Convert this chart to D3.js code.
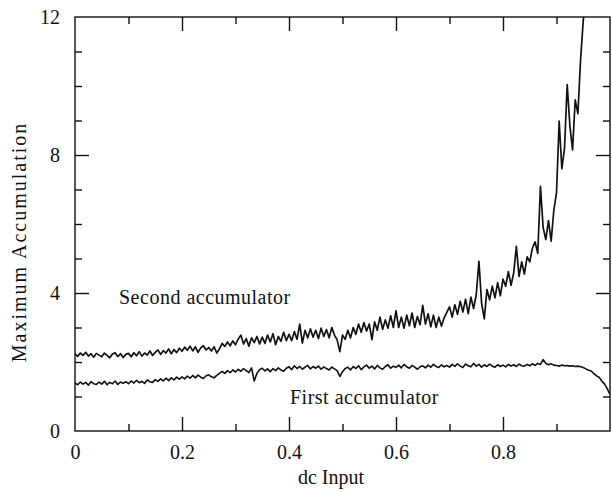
<!DOCTYPE html>
<html>
<head>
<meta charset="utf-8">
<script src="https://cdn.jsdelivr.net/npm/d3@7"></script>
<style>
  html, body { margin: 0; padding: 0; background: #fff; }
  svg { display: block; }
  text { font-family: "Liberation Serif", "DejaVu Serif", "Times New Roman", serif; fill: #111; }
</style>
</head>
<body>
<svg id="chart" width="612" height="493"></svg>
<script>
// ---- data ----
const dcInput = [
  0,0.005,0.01,0.015,0.02,0.025,0.03,0.035,0.04,0.045,
  0.05,0.055,0.06,0.065,0.07,0.075,0.08,0.085,0.09,0.095,
  0.1,0.105,0.11,0.115,0.12,0.125,0.13,0.135,0.14,0.145,
  0.15,0.155,0.16,0.165,0.17,0.175,0.18,0.185,0.19,0.195,
  0.2,0.205,0.21,0.215,0.22,0.225,0.23,0.235,0.24,0.245,
  0.25,0.255,0.26,0.265,0.27,0.275,0.28,0.285,0.29,0.295,
  0.3,0.305,0.31,0.315,0.32,0.325,0.33,0.335,0.34,0.345,
  0.35,0.355,0.36,0.365,0.37,0.375,0.38,0.385,0.39,0.395,
  0.4,0.405,0.41,0.415,0.42,0.425,0.43,0.435,0.44,0.445,
  0.45,0.455,0.46,0.465,0.47,0.475,0.48,0.485,0.49,0.495,
  0.5,0.505,0.51,0.515,0.52,0.525,0.53,0.535,0.54,0.545,
  0.55,0.555,0.56,0.565,0.57,0.575,0.58,0.585,0.59,0.595,
  0.6,0.605,0.61,0.615,0.62,0.625,0.63,0.635,0.64,0.645,
  0.65,0.655,0.66,0.665,0.67,0.675,0.68,0.685,0.69,0.695,
  0.7,0.705,0.71,0.715,0.72,0.725,0.73,0.735,0.74,0.745,
  0.75,0.755,0.76,0.765,0.77,0.775,0.78,0.785,0.79,0.795,
  0.8,0.805,0.81,0.815,0.82,0.825,0.83,0.835,0.84,0.845,
  0.85,0.855,0.86,0.865,0.87,0.875,0.88,0.885,0.89,0.895,
  0.9,0.905,0.91,0.915,0.92,0.925,0.93,0.935,0.94,0.945,
  0.95,0.955,0.96,0.965,0.97,0.975,0.98,0.985,0.99,0.995,
  1.0
];

const secondAccumulator = [
  2.24,2.16,2.26,2.19,2.28,2.17,2.24,2.14,2.25,2.20,
  2.15,2.26,2.19,2.12,2.23,2.27,2.16,2.24,2.13,2.22,
  2.25,2.15,2.27,2.18,2.30,2.17,2.26,2.20,2.32,2.19,
  2.28,2.35,2.22,2.33,2.26,2.38,2.24,2.36,2.27,2.40,
  2.31,2.43,2.34,2.46,2.32,2.44,2.28,2.41,2.47,2.35,
  2.42,2.32,2.44,2.26,2.38,2.54,2.45,2.58,2.47,2.61,
  2.50,2.66,2.78,2.52,2.68,2.46,2.70,2.56,2.74,2.52,
  2.72,2.54,2.78,2.58,2.82,2.50,2.74,2.60,2.86,2.62,
  2.80,2.62,2.88,2.66,3.10,2.55,2.92,2.70,2.96,2.72,
  2.92,2.68,2.98,2.74,2.94,2.70,3.00,2.78,2.64,2.30,
  2.78,2.66,2.92,2.70,3.00,2.80,3.10,2.86,3.14,2.90,
  3.10,2.65,3.16,2.92,3.30,2.95,3.22,2.98,3.34,3.00,
  3.48,3.00,3.30,2.98,3.36,3.05,3.42,3.00,3.32,3.08,
  3.64,3.10,3.40,3.02,3.36,3.00,3.30,3.04,3.28,3.44,
  3.60,3.30,3.66,3.38,3.76,3.45,3.82,3.40,3.88,3.55,
  3.95,4.92,3.70,3.25,4.10,3.80,4.20,3.86,4.30,3.92,
  4.40,4.20,4.62,4.22,4.58,5.35,4.48,4.90,4.55,5.05,
  4.90,5.30,5.48,5.15,7.09,5.90,5.55,6.10,5.50,6.40,
  6.90,8.98,7.60,8.20,10.04,8.85,8.15,9.60,9.20,10.76,
  11.9,12.5
];

const firstAccumulator = [
  1.39,1.34,1.42,1.36,1.41,1.33,1.43,1.37,1.35,1.42,
  1.36,1.44,1.34,1.41,1.37,1.45,1.35,1.42,1.38,1.43,
  1.37,1.45,1.39,1.47,1.40,1.44,1.38,1.48,1.43,1.41,
  1.49,1.44,1.51,1.45,1.53,1.46,1.54,1.48,1.56,1.50,
  1.57,1.51,1.59,1.53,1.61,1.54,1.62,1.56,1.52,1.60,
  1.63,1.57,1.54,1.61,1.67,1.73,1.67,1.75,1.69,1.77,
  1.71,1.79,1.73,1.81,1.75,1.69,1.83,1.45,1.67,1.78,
  1.82,1.74,1.80,1.72,1.81,1.75,1.83,1.77,1.73,1.82,
  1.86,1.78,1.89,1.81,1.87,1.79,1.85,1.90,1.80,1.87,
  1.82,1.88,1.79,1.86,1.81,1.77,1.85,1.80,1.75,1.58,
  1.72,1.81,1.85,1.77,1.87,1.81,1.89,1.78,1.86,1.91,
  1.82,1.88,1.80,1.90,1.83,1.79,1.87,1.92,1.82,1.88,
  1.84,1.91,1.83,1.93,1.86,1.82,1.90,1.85,1.79,1.86,
  1.89,1.83,1.91,1.85,1.93,1.87,1.84,1.92,1.86,1.90,
  1.85,1.93,1.87,1.95,1.88,1.84,1.94,1.89,1.86,1.96,
  1.88,1.93,1.85,1.92,1.87,1.94,1.88,1.85,1.92,1.87,
  1.91,1.86,1.93,1.88,1.92,1.87,1.94,1.89,1.88,1.93,
  1.89,1.95,1.90,1.96,1.93,2.07,1.96,1.92,1.95,1.91,
  1.90,1.88,1.91,1.89,1.90,1.88,1.89,1.87,1.88,1.86,
  1.84,1.80,1.76,1.74,1.66,1.60,1.55,1.44,1.36,1.22,
  1.06
];

const xMajorTicks = [0, 0.2, 0.4, 0.6, 0.8];
const xTickLabels = ["0", "0.2", "0.4", "0.6", "0.8"];
const xMinorTicks = [0.1, 0.3, 0.5, 0.7, 0.9];
const yMajorTicks = [0, 4, 8, 12];
const yTickLabels = ["0", "4", "8", "12"];
const yMinorTicks = [1, 2, 3, 5, 6, 7, 9, 10, 11];
const seriesLabels = ["Second accumulator", "First accumulator"];
const xTitle = "dc Input";
const yTitle = "Maximum Accumulation";

// ---- layout ----
const svg = d3.select("#chart");
const L = 75, R = 610, T = 17, B = 431;
const x = d3.scaleLinear().domain([0, 1]).range([L, R]);
const y = d3.scaleLinear().domain([0, 12]).range([B, T]);
const ink = "#111";
const serif = '"Liberation Serif", "DejaVu Serif", "Times New Roman", serif';
const majorLen = 14, minorLen = 7;

svg.append("defs").append("clipPath").attr("id", "plotClip")
  .append("rect").attr("x", L).attr("y", T).attr("width", R - L).attr("height", B - T);

function styleAxis(g) {
  g.attr("font-family", serif);
  g.select(".domain").remove();
  g.selectAll(".tick line").attr("stroke", ink).attr("stroke-width", 1.4);
}

// bottom axis
const gBottom = svg.append("g").attr("transform", `translate(0,${B})`)
  .call(d3.axisBottom(x).tickValues(xMajorTicks)
    .tickFormat((d, i) => xTickLabels[i]).tickSizeInner(-majorLen).tickSizeOuter(0).tickPadding(14));
styleAxis(gBottom);
gBottom.selectAll(".tick text").attr("font-size", 20).attr("font-family", serif).attr("fill", ink);
gBottom.selectAll(".tick").filter(d => d === 0).select("line").remove();
const gBottomMinor = svg.append("g").attr("transform", `translate(0,${B})`)
  .call(d3.axisBottom(x).tickValues(xMinorTicks).tickFormat("").tickSizeInner(-minorLen).tickSizeOuter(0));
styleAxis(gBottomMinor);

// top axis
const gTop = svg.append("g").attr("transform", `translate(0,${T})`)
  .call(d3.axisTop(x).tickValues(xMajorTicks.filter(d => d > 0)).tickFormat("").tickSizeInner(-majorLen).tickSizeOuter(0));
styleAxis(gTop);
const gTopMinor = svg.append("g").attr("transform", `translate(0,${T})`)
  .call(d3.axisTop(x).tickValues(xMinorTicks).tickFormat("").tickSizeInner(-minorLen).tickSizeOuter(0));
styleAxis(gTopMinor);

// left axis
const gLeft = svg.append("g").attr("transform", `translate(${L},0)`)
  .call(d3.axisLeft(y).tickValues(yMajorTicks)
    .tickFormat((d, i) => yTickLabels[i]).tickSizeInner(-majorLen).tickSizeOuter(0).tickPadding(15));
styleAxis(gLeft);
gLeft.selectAll(".tick text").attr("font-size", 20).attr("font-family", serif).attr("fill", ink);
gLeft.selectAll(".tick").filter(d => d === 0 || d === 12).select("line").remove();
const gLeftMinor = svg.append("g").attr("transform", `translate(${L},0)`)
  .call(d3.axisLeft(y).tickValues(yMinorTicks).tickFormat("").tickSizeInner(-minorLen).tickSizeOuter(0));
styleAxis(gLeftMinor);

// right axis
const gRight = svg.append("g").attr("transform", `translate(${R},0)`)
  .call(d3.axisRight(y).tickValues(yMajorTicks.filter(d => d > 0 && d < 12)).tickFormat("").tickSizeInner(-majorLen).tickSizeOuter(0));
styleAxis(gRight);
const gRightMinor = svg.append("g").attr("transform", `translate(${R},0)`)
  .call(d3.axisRight(y).tickValues(yMinorTicks).tickFormat("").tickSizeInner(-minorLen).tickSizeOuter(0));
styleAxis(gRightMinor);

// frame
svg.append("rect").attr("x", L).attr("y", T).attr("width", R - L).attr("height", B - T)
  .attr("fill", "none").attr("stroke", ink).attr("stroke-width", 1.4);

// lines
const line = d3.line().x(d => x(d[0])).y(d => y(d[1]));
const plot = svg.append("g").attr("clip-path", "url(#plotClip)");
plot.append("path")
  .datum(secondAccumulator.map((v, i) => [dcInput[i], v]))
  .attr("d", line).attr("fill", "none").attr("stroke", ink).attr("stroke-width", 1.7)
  .attr("stroke-linejoin", "round");
plot.append("path")
  .datum(firstAccumulator.map((v, i) => [dcInput[i], v]))
  .attr("d", line).attr("fill", "none").attr("stroke", ink).attr("stroke-width", 1.6)
  .attr("stroke-linejoin", "round");

// series labels
svg.append("text").attr("x", 119).attr("y", 304).attr("font-size", 20).attr("font-family", serif)
  .attr("letter-spacing", 0.5).text(seriesLabels[0]);
svg.append("text").attr("x", 290).attr("y", 404).attr("font-size", 20).attr("font-family", serif)
  .attr("letter-spacing", 0.5).text(seriesLabels[1]);

// axis titles
svg.append("text").attr("x", 331).attr("y", 484).attr("text-anchor", "middle")
  .attr("font-size", 20).attr("font-family", serif).text(xTitle);
svg.append("text").attr("transform", "translate(26,242) rotate(-90)").attr("text-anchor", "middle")
  .attr("font-size", 20).attr("font-family", serif).attr("letter-spacing", 2).text(yTitle);
</script>
</body>
</html>
